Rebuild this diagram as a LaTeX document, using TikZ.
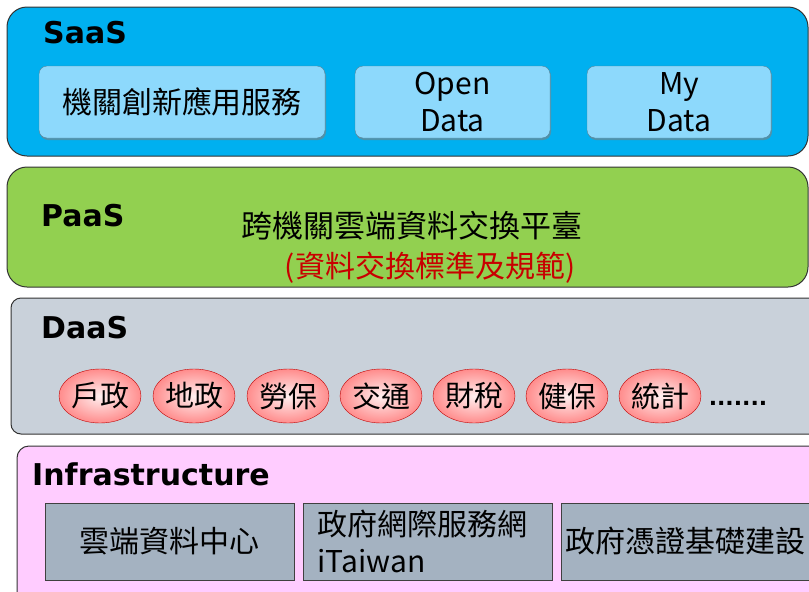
\documentclass[tikz,border=0pt]{standalone}
\usepackage{fontspec}
\setmainfont{DejaVu Sans}
\newfontfamily\cjk{Noto Sans CJK TC}
\usetikzlibrary{shapes.geometric,shadows}
\definecolor{saasblue}{RGB}{0,176,240}
\definecolor{appblue}{RGB}{141,217,252}
\definecolor{paasgreen}{RGB}{146,208,80}
\definecolor{daasgrey}{RGB}{201,209,218}
\definecolor{infrapink}{RGB}{255,204,255}
\definecolor{infragrey}{RGB}{164,178,193}
\definecolor{darkred}{RGB}{200,0,0}
\begin{document}
\begin{tikzpicture}[x=1pt, y=-1pt,
	layer/.style={draw=black!80, line width=1pt, rounded corners=20pt, inner sep=0pt},
	title/.style={anchor=base west, inner sep=0pt, font=\fontsize{30}{30}\selectfont\bfseries},
	app/.style={fill=appblue, draw=appblue!60!black, rounded corners=8pt, minimum height=72pt, inner sep=0pt, align=center, font=\cjk\fontsize{30}{37}\selectfont, drop shadow={shadow xshift=1pt, shadow yshift=-2pt, opacity=0.6}},
	source/.style={ellipse, draw=red!75!black, inner color=red!6, outer color=red!45, minimum width=77pt, minimum height=54pt, inner sep=0pt, font=\cjk\fontsize{29}{29}\selectfont},
	infra/.style={fill=infragrey, draw=black!75, line width=1pt, minimum width=249pt, minimum height=77pt, inner sep=0pt, font=\cjk\fontsize{30}{37}\selectfont}]
	\useasboundingbox (0,0) rectangle (809,592);
	\clip (0,0) rectangle (809,592);
	\node[layer, fill=saasblue, minimum width=801pt, minimum height=149pt] (S) at (407.5,81.5) {};
	\node[layer, fill=paasgreen, minimum width=801pt, minimum height=120pt] (P) at (407.5,227) {};
	\node[layer, fill=daasgrey, rounded corners=10pt, minimum width=839pt, minimum height=136pt] (D) at (430.5,366) {};
	\node[layer, fill=infrapink, rounded corners=12pt, minimum width=840pt, minimum height=160pt] (I) at (437,526) {};
	\node[title] (LS) at (43,43) {SaaS};
	\node[title] (LP) at (41,226) {PaaS};
	\node[title] (LD) at (41,338) {DaaS};
	\node[title] (LI) at (32,485) {Infrastructure};
	\node[app, minimum width=286pt] (A1) at (182,102) {機關創新應用服務};
	\node[app, minimum width=195pt] (A2) at (452.5,102) {Open\\Data};
	\node[app, minimum width=184pt] (A3) at (679,102) {My\\Data};
	\node[font=\cjk\fontsize{31}{31}\selectfont] (X) at (412,226) {跨機關雲端資料交換平臺};
	\node[font=\cjk\fontsize{30}{30}\selectfont, text=darkred] (XS) at (430,268) {(資料交換標準及規範)};
	\node[source] (D1) at (100,396) {戶政};
	\node[source] (D2) at (194,396) {地政};
	\node[source] (D3) at (288,396) {勞保};
	\node[source] (D4) at (381,396) {交通};
	\node[source] (D5) at (474,396) {財稅};
	\node[source] (D6) at (567,396) {健保};
	\node[source] (D7) at (660,396) {統計};
	\node[font=\fontsize{22}{22}\selectfont\bfseries, inner sep=0pt] (more) at (738,403) {.......};
	\node[infra] (I1) at (169.5,541.5) {雲端資料中心};
	\node[infra, align=left, text width=220pt] (I2) at (427.5,541.5) {政府網際服務網\\iTaiwan};
	\node[infra] (I3) at (685.5,541.5) {政府憑證基礎建設};
\end{tikzpicture}
\end{document}
